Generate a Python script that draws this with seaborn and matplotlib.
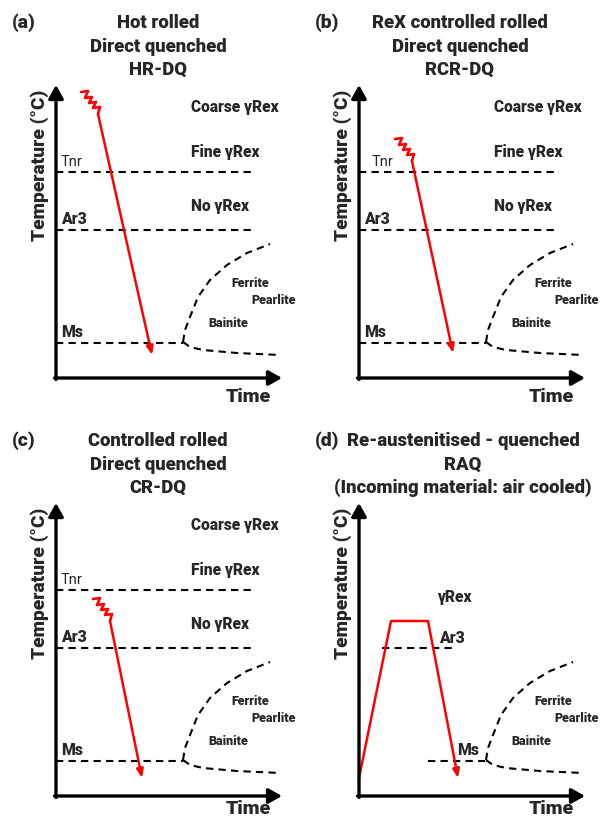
import matplotlib
matplotlib.use("Agg")
import matplotlib.pyplot as plt
import seaborn as sns

sns.set_style("white")
plt.rcParams['font.family'] = ['Roboto', 'DejaVu Sans']

W, H = 603, 821
# panel offsets (pixels) and labels
panel_offsets = [(0, 0), (303, 0), (0, 418), (303, 418)]
panel_letters = ["(a)", "(b)", "(c)", "(d)"]
panel_titles = [
    ["Hot rolled", "Direct quenched", "HR-DQ"],
    ["ReX controlled rolled", "Direct quenched", "RCR-DQ"],
    ["Controlled rolled", "Direct quenched", "CR-DQ"],
    ["Re-austenitised - quenched", "RAQ", "(Incoming material: air cooled)"],
]
title_x = [158, 157, 158, 160]
title_y = [23, 47, 70]
time_y = [397, 397, 391, 391]

# axes geometry (local pixel units)
axis_x0 = 56
axis_y_top = 85
axis_y0 = 378
axis_x_end = 282

# critical temperature levels (local y)
tnr_y = 172
ar3_y = 230
ms_y = 343
line_end_x = 255
ms_end_x = 183

# transformation curves (CCT nose)
upper_curve_x = [183, 185, 190, 198, 210, 227, 247, 270]
upper_curve_y = [342, 330, 317, 297, 280, 265, 253, 244]
lower_curve_x = [183, 190, 203, 237, 280]
lower_curve_y = [342, 347, 350, 353, 355]

# rolling zigzag (relative to its start)
zig_dx = [0, 7, 4, 11, 8, 15, 12, 19, 17]
zig_dy = [0, -1, 6, 5, 11, 10, 16, 15, 22]
zig_start = [(81, 92), (92, 139), (93, 181)]
quench_end = [(152, 355), (150, 353), (142, 360)]

# RAQ path (panel d)
raq_x = [56, 88, 125, 155]
raq_y = [360, 203, 203, 360]
raq_ar3_x = [79, 149]
raq_ms_x = [125, 182]

tnr_label_x = [61, 69, 61]
region_labels = ["Coarse \u03b3Rex", "Fine \u03b3Rex", "No \u03b3Rex"]
region_y = [107, 152, 206]

fig = plt.figure(figsize=(W / 100, H / 100), dpi=100)

BLACK = "black"
RED = "#ff0000"
dash = (0, (3.5, 2.5))
BOLD = "black"

def line(ax, xs, ys, **kw):
    sns.lineplot(x=xs, y=ys, sort=False, estimator=None, ax=ax, **kw)

for i, (ox, oy) in enumerate(panel_offsets):
    ax = fig.add_axes([ox / W, 1 - (oy + 410) / H, 300 / W, 410 / H])
    ax.set_xlim(0, 300)
    ax.set_ylim(410, 0)
    ax.axis("off")

    # axes arrows
    ax.annotate("", xy=(axis_x0, axis_y_top), xytext=(axis_x0, axis_y0 + 1.5),
                arrowprops=dict(arrowstyle="-|>,head_length=0.8,head_width=0.45",
                                lw=2.4, color=BLACK, shrinkA=0, shrinkB=0),
                annotation_clip=False)
    ax.annotate("", xy=(axis_x_end, axis_y0), xytext=(axis_x0 - 1.5, axis_y0),
                arrowprops=dict(arrowstyle="-|>,head_length=0.8,head_width=0.45",
                                lw=2.4, color=BLACK, shrinkA=0, shrinkB=0),
                annotation_clip=False)

    ax.text(40, 165, "Temperature (\u00b0C)", rotation=90, ha="center", va="center",
            fontsize=13.8, fontweight=BOLD)
    ax.text(248, time_y[i], "Time", ha="center", va="center", fontsize=14, fontweight=BOLD)
    ax.text(12, title_y[0], panel_letters[i], ha="left", va="center",
            fontsize=14, fontweight=BOLD)
    for t, ty in zip(panel_titles[i], title_y):
        ax.text(title_x[i], ty, t, ha="center", va="center", fontsize=13.3, fontweight=BOLD)

    # transformation curves
    line(ax, upper_curve_x, upper_curve_y, color=BLACK, lw=1.5, linestyle=dash)
    line(ax, lower_curve_x, lower_curve_y, color=BLACK, lw=1.5, linestyle=dash)
    ax.text(250, 283, "Ferrite", ha="center", va="center", fontsize=9, fontweight="black")
    ax.text(274, 300, "Pearlite", ha="center", va="center", fontsize=9, fontweight="black")
    ax.text(228, 323, "Bainite", ha="center", va="center", fontsize=9, fontweight="black")

    if i < 3:
        line(ax, [axis_x0, line_end_x], [tnr_y, tnr_y], color=BLACK, lw=1.5, linestyle=dash)
        line(ax, [axis_x0, line_end_x], [ar3_y, ar3_y], color=BLACK, lw=1.5, linestyle=dash)
        line(ax, [axis_x0, ms_end_x], [ms_y, ms_y], color=BLACK, lw=1.5, linestyle=dash)
        ax.text(tnr_label_x[i], 162, "Tnr", ha="left", va="center", fontsize=10.5)
        ax.text(61, 219, "Ar3", ha="left", va="center", fontsize=11.3, fontweight=BOLD)
        ax.text(61, 332, "Ms", ha="left", va="center", fontsize=11.3, fontweight=BOLD)
        for lab, ry in zip(region_labels, region_y):
            ax.text(191, ry, lab, ha="left", va="center", fontsize=11.2, fontweight=BOLD)
        sx, sy = zig_start[i]
        zx = [sx + d for d in zig_dx]
        zy = [sy + d for d in zig_dy]
        line(ax, zx, zy, color=RED, lw=1.9)
        ex, ey = quench_end[i]
        ax.annotate("", xy=(ex, ey), xytext=(zx[-1], zy[-1]),
                    arrowprops=dict(arrowstyle="-|>,head_length=0.5,head_width=0.2",
                                    lw=1.8, color=RED, shrinkA=0, shrinkB=0))
    else:
        line(ax, raq_ar3_x, [ar3_y, ar3_y], color=BLACK, lw=1.5, linestyle=dash)
        line(ax, raq_ms_x, [ms_y, ms_y], color=BLACK, lw=1.5, linestyle=dash)
        line(ax, raq_x[:3], raq_y[:3], color=RED, lw=1.8)
        ax.annotate("", xy=(raq_x[3], raq_y[3]), xytext=(raq_x[2], raq_y[2]),
                    arrowprops=dict(arrowstyle="-|>,head_length=0.5,head_width=0.2",
                                    lw=1.8, color=RED, shrinkA=0, shrinkB=0))
        ax.text(134, 179, "\u03b3Rex", ha="left", va="center", fontsize=11.2, fontweight=BOLD)
        ax.text(136, 220, "Ar3", ha="left", va="center", fontsize=11.3, fontweight=BOLD)
        ax.text(154, 332, "Ms", ha="left", va="center", fontsize=11.3, fontweight=BOLD)

fig.savefig("out.png", dpi=100, facecolor="white")
